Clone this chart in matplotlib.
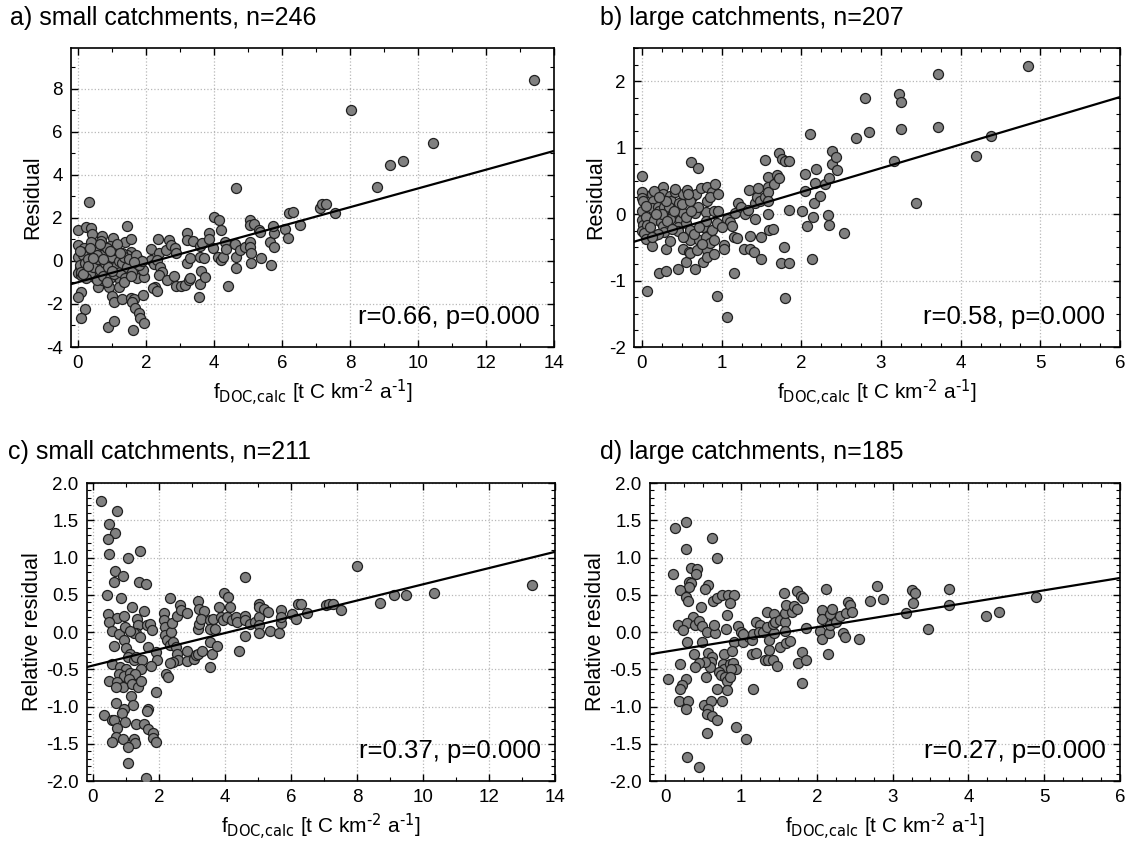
import matplotlib
matplotlib.use('Agg')
import matplotlib.pyplot as plt
from matplotlib.ticker import MultipleLocator, FormatStrFormatter

plt.rcParams['font.family'] = ['Liberation Sans', 'DejaVu Sans']
plt.rcParams['mathtext.default'] = 'regular'
plt.rcParams['axes.unicode_minus'] = False

# a) small catchments, residual
a_x = [0.34, 0, 0.25, 0.40, 0.42, 0, 0.18, 0, 0.23, 0.47, 0.70, 0.69, 0.67, 0.57, 0.42, 0.05, 0, 0.10, 0.32, 0.47,
       0.59, 0.72, 0.86, 0.91, 1.04, 0.96, 0.81, 0.76, 0.96, 1.11, 1.06, 1.16, 1.25, 1.20, 1.01, 1.06, 1.30, 0.89, 1.06, 0.10,
       0, 0.20, 0.10, 1.44, 1.40, 1.57, 1.55, 1.45, 1.30, 1.25, 1.40, 1.55, 1.65, 1.77, 1.69, 1.50, 1.37, 1.75, 1.94, 1.92,
       1.55, 1.65, 1.58, 1.69, 1.81, 1.84, 1.94, 1.63, 1.92, 2.16, 2.14, 2.24, 2.36, 2.40, 2.33, 2.43, 2.48, 2.39, 2.28, 2.22,
       2.33, 2.58, 2.61, 2.68, 2.73, 2.87, 2.90, 2.84, 2.90, 3.02, 3.14, 3.22, 3.22, 3.39, 3.22, 3.29, 3.26, 3.31, 3.56, 3.59,
       3.71, 3.59, 3.66, 3.61, 3.59, 3.75, 3.85, 3.85, 3.98, 4.00, 4.15, 4.20, 4.12, 4.21, 4.26, 4.34, 4.37, 4.41, 4.64, 4.61,
       4.64, 4.64, 4.78, 4.93, 5.06, 5.05, 5.06, 5.06, 5.08, 5.08, 5.18, 5.34, 5.35, 5.39, 5.67, 5.65, 5.76, 5.75, 5.78, 6.09,
       6.19, 6.22, 6.33, 6.53, 7.11, 7.19, 7.31, 7.56, 8.02, 8.79, 9.18, 9.56, 10.44, 13.40,
       0.05, 0.10, 0.15, 0.20, 0.30, 0.35, 0.40, 0.45, 0.50, 0.55, 0.60, 0.65, 0.70, 0.75, 0.80, 0.85, 0.90, 0.95, 1.00, 1.05,
       1.10, 1.15, 1.20, 1.25, 1.30, 1.35, 1.40, 1.45, 1.50, 1.60, 1.70, 1.80, 1.90, 0.25, 0.55, 0.85, 1.15, 1.35, 0.15, 0.65,
       0.30, 0.75, 1.00, 1.25, 1.55, 0.45, 0.95, 1.65, 0.35, 0.05]
a_y = [2.76, 1.44, 1.57, 1.55, 1.26, 0.74, 0.59, 0.17, 0.43, 0.59, 1.16, 0.91, 0.51, 0.20, 0.12, -0.34, -0.57, -0.65, -0.42, -0.73,
       -1.19, -0.88, -0.57, -1.19, 1.05, 0.70, 0.36, 0.05, -0.03, -0.11, -0.42, -0.65, -0.88, -1.19, -1.63, -1.89, -1.77, -3.05, -2.79, -1.43,
       -1.66, -2.25, -2.67, 1.64, 0.90, 1.01, 0.43, 0.28, 0.36, 0.12, -0.03, -0.14, 0.05, 0.08, -0.26, -0.42, -0.57, -0.81, -0.76, -0.42,
       -1.74, -1.78, -1.89, -2.20, -2.43, -2.67, -2.90, -3.21, -1.58, 0.54, 0.05, -0.14, 1.01, 0.36, 0.05, -0.26, -0.50, -0.65, -1.19, -1.27,
       -1.38, 0.51, -0.88, 0.98, 0.74, 0.59, 0.36, -0.70, -1.16, -1.16, -1.12, 1.32, 0.98, 0.95, -0.08, 0.12, -0.88, -0.78, -1.66, 0.17,
       0.12, 0.70, 0.82, -0.47, -1.07, -0.76, 1.29, 1.02, 0.59, 2.06, 1.91, 1.44, 0.20, 0.05, 0.20, 0.87, 0.56, -1.15, 3.41, 0.78,
       0.20, -0.34, 0.51, 0.64, 1.91, 1.67, 0.87, 0.67, 0.36, -0.11, 1.72, 1.44, 1.33, 0.12, -0.19, 0.90, 1.32, 1.63, 0.64, 1.47,
       1.09, 2.25, 2.29, 1.66, 2.48, 2.64, 2.64, 2.25, 7.02, 3.46, 4.47, 4.67, 5.47, 8.40,
       -0.20, -0.50, 0.30, -0.10, 0.10, -0.60, 0.90, -0.30, 0.50, -0.90, 0.10, -0.40, 0.30, -0.70, -0.10, 0.60, -0.30, -0.80, 0.20, -0.60,
       0.50, -0.20, 0.00, -0.50, -0.10, 0.20, -0.80, -0.30, 0.10, -0.50, 0.30, -0.20, 0.00, -0.80, 0.30, -1.00, 0.80, -1.00, -0.60, 0.80,
       -0.25, 0.10, -0.45, 0.35, -0.70, 0.15, 0.45, -0.05, 0.60, 0.45]

# b) large catchments, residual
b_x = [0, 0, 0, 0.01, 0, 0, 0.01, 0, 0.05, 0.06, 0.03, 0.05, 0.06, 0.13, 0.14, 0.12, 0.15, 0.16, 0.13, 0.21,
       0.26, 0.27, 0.20, 0.22, 0.28, 0.24, 0.26, 0.28, 0.30, 0.30, 0.35, 0.37, 0.34, 0.39, 0.35, 0.41, 0.43, 0.46, 0.48, 0.45,
       0.45, 0.51, 0.52, 0.55, 0.53, 0.51, 0.57, 0.60, 0.62, 0.63, 0.64, 0.60, 0.59, 0.55, 0.60, 0.66, 0.67, 0.70, 0.68, 0.72,
       0.69, 0.74, 0.76, 0.76, 0.80, 0.80, 0.81, 0.82, 0.82, 0.82, 0.85, 0.88, 0.88, 0.90, 0.91, 0.92, 0.94, 0.94, 0.96, 1.03,
       1.03, 1.07, 1.10, 1.13, 1.15, 1.07, 1.17, 1.16, 1.19, 1.21, 1.24, 1.29, 1.28, 1.34, 1.33, 1.36, 1.36, 1.41, 1.42, 1.42,
       1.44, 1.46, 1.48, 1.49, 1.50, 1.55, 1.54, 1.58, 1.58, 1.58, 1.58, 1.58, 1.60, 1.64, 1.66, 1.69, 1.72, 1.72, 1.74, 1.76,
       1.80, 1.78, 1.80, 1.84, 1.85, 1.85, 2.01, 2.05, 2.05, 2.07, 2.11, 2.13, 2.15, 2.16, 2.17, 2.19, 2.24, 2.30, 2.34, 2.35,
       2.35, 2.39, 2.38, 2.43, 2.45, 2.54, 2.69, 2.80, 2.85, 3.16, 3.22, 3.25, 3.25, 3.44, 3.71, 3.72, 4.19, 4.38, 4.85,
       0.05, 0.10, 0.15, 0.20, 0.25, 0.30, 0.35, 0.40, 0.45, 0.50, 0.55, 0.60, 0.65, 0.70, 0.75, 0.80, 0.85, 0.90, 0.95, 1.00,
       0.12, 0.22, 0.32, 0.42, 0.52, 0.62, 0.72, 0.18, 0.38, 0.58]
b_y = [0.58, 0.33, 0.24, 0.19, 0.05, -0.09, -0.17, -0.25, -0.04, -0.17, -0.29, -0.37, -1.15, 0.30, 0.19, 0.09, -0.09, -0.32, -0.48, -0.88,
       0.41, 0.31, 0.11, 0.04, 0.11, -0.12, -0.18, -0.27, -0.52, -0.85, 0.27, 0.20, 0.11, 0.02, -0.07, 0.33, 0.06, 0.16, -0.09, -0.19,
       -0.82, 0.31, 0.01, -0.14, -0.34, -0.52, 0.36, -0.24, 0.79, 0.26, 0.04, -0.39, -0.57, -0.72, -0.59, 0.01, -0.82, 0.69, 0.31, -0.39,
       -0.54, 0.39, -0.19, -0.72, 0.03, -0.34, -0.54, 0.19, 0.41, -0.64, -0.44, 0.34, -0.24, 0.04, -0.39, 0.46, -0.14, -1.23, 0.04, -0.47,
       -0.52, -0.07, -0.12, -0.18, -0.88, -1.55, 0.01, -0.35, -0.36, 0.16, 0.11, 0.00, -0.52, 0.36, 0.06, -0.33, -0.52, -0.57, -0.07, 0.16,
       0.26, 0.39, 0.19, -0.67, -0.34, 0.82, 0.26, 0.56, 0.41, 0.34, 0.19, 0.00, -0.24, -0.22, 0.45, 0.59, 0.92, 0.54, -0.74, 0.83,
       0.80, -0.49, -1.26, 0.80, 0.06, -0.74, 0.04, 0.61, 0.35, -0.18, 1.20, -0.67, -0.04, 0.17, 0.47, 0.68, 0.27, 0.45, -0.02, -0.17,
       0.55, 0.95, 0.75, 0.86, 0.66, -0.28, 1.14, 1.74, 1.24, 0.80, 1.81, 1.68, 1.28, 0.16, 2.11, 1.31, 0.88, 1.17, 2.23,
       0.12, -0.20, 0.35, -0.30, 0.00, 0.20, -0.40, 0.05, -0.25, 0.15, -0.05, 0.20, -0.30, 0.10, -0.45, -0.10, 0.25, -0.60, 0.30, -0.20,
       -0.35, 0.25, -0.10, 0.38, -0.35, 0.05, -0.20, 0.00, -0.22, 0.30]

# c) small catchments, relative residual
c_x = [0.24, 0.73, 0.49, 0.67, 0.45, 0.49, 1.43, 1.06, 0.67, 0.90, 0.65, 1.40, 1.60, 0.42, 0.85, 1.18, 1.55, 0.45, 0.73, 0.93,
       0.49, 0.57, 0.78, 0.98, 1.33, 1.38, 1.31, 1.23, 1.13, 1.43, 1.63, 1.73, 1.78, 0.93, 0.65, 1.01, 1.13, 1.05, 1.23, 1.30,
       1.68, 1.90, 1.95, 1.75, 1.48, 1.46, 0.59, 0.83, 1.01, 0.78, 0.95, 1.13, 1.28, 1.10, 0.50, 0.73, 0.91, 0.71, 1.18, 1.38,
       1.46, 1.91, 1.15, 1.21, 0.71, 0.93, 1.68, 1.63, 0.88, 0.98, 0.32, 0.59, 0.65, 0.73, 1.31, 1.55, 1.68, 1.81, 1.83, 1.91,
       0.71, 0.57, 0.91, 1.23, 1.26, 1.05, 1.05, 1.61, 2.16, 2.14, 2.17, 2.17, 2.24, 2.34, 2.36, 2.32, 2.41, 2.44, 2.52, 2.56,
       2.59, 2.42, 2.34, 2.21, 2.28, 2.56, 2.64, 2.67, 2.86, 2.86, 2.84, 3.07, 3.12, 3.19, 3.29, 3.19, 3.22, 3.19, 3.22, 3.37,
       3.27, 3.55, 3.55, 3.56, 3.60, 3.55, 3.63, 3.70, 3.75, 3.83, 3.87, 3.93, 3.98, 4.08, 4.05, 4.15, 4.20, 4.32, 4.35, 4.60,
       4.60, 4.62, 4.60, 4.42, 4.75, 4.90, 5.04, 5.04, 5.04, 5.04, 5.04, 5.18, 5.31, 5.36, 5.64, 5.69, 5.69, 5.71, 6.04, 6.16,
       6.21, 6.31, 6.49, 7.07, 7.15, 7.27, 7.52, 7.99, 8.71, 9.13, 9.50, 10.34, 13.31]
c_y = [1.76, 1.62, 1.45, 1.33, 1.25, 1.05, 1.09, 1.00, 0.82, 0.75, 0.67, 0.67, 0.65, 0.50, 0.45, 0.34, 0.28, 0.24, 0.19, 0.21,
       0.13, 0.02, -0.03, 0.07, 0.18, 0.10, -0.02, -0.01, 0.01, -0.07, 0.10, 0.11, 0.03, -0.11, -0.19, -0.22, -0.29, -0.34, -0.38, -0.34,
       -0.20, -0.27, -0.38, -0.45, -0.38, -0.49, -0.43, -0.47, -0.49, -0.56, -0.59, -0.55, -0.56, -0.63, -0.66, -0.67, -0.74, -0.74, -0.70, -0.74,
       -0.66, -0.81, -0.86, -0.98, -0.95, -1.03, -1.04, -1.06, -1.09, -1.21, -1.12, -1.18, -1.18, -1.29, -1.23, -1.23, -1.30, -1.36, -1.42, -1.47,
       -1.41, -1.48, -1.43, -1.44, -1.49, -1.55, -1.76, -1.96, 0.26, 0.16, 0.07, -0.04, -0.11, -0.18, 0.00, 0.45, 0.12, -0.13, -0.20, -0.29,
       -0.38, -0.40, -0.42, -0.56, -0.60, 0.21, 0.36, 0.30, 0.25, -0.39, -0.25, -0.36, -0.31, -0.29, -0.25, 0.04, 0.11, 0.42, 0.31, 0.28,
       0.18, 0.16, 0.04, -0.13, -0.29, -0.47, 0.18, 0.04, -0.19, 0.34, 0.20, 0.16, 0.52, 0.47, 0.20, 0.34, 0.16, 0.20, 0.13, 0.22,
       0.16, 0.74, -0.06, -0.25, 0.11, 0.13, 0.38, 0.34, 0.20, 0.10, -0.02, 0.31, 0.27, 0.02, -0.02, 0.29, 0.12, 0.20, 0.24, 0.18,
       0.37, 0.37, 0.26, 0.36, 0.37, 0.37, 0.30, 0.88, 0.39, 0.50, 0.50, 0.53, 0.63]

# d) large catchments, relative residual
d_x = [0.13, 0.27, 0.27, 0.62, 0.69, 0.10, 0.34, 0.42, 0.41, 0.32, 0.34, 0.31, 0.57, 0.52, 0.20, 0.28, 0.30, 0.63, 0.68, 0.75,
       0.83, 0.91, 0.86, 0.47, 0.81, 0.37, 0.17, 0.29, 0.24, 0.40, 0.44, 0.49, 0.55, 0.66, 0.65, 0.80, 0.96, 1.00, 0.91, 1.05,
       0.29, 0.48, 0.38, 0.57, 0.62, 0.60, 0.59, 0.53, 0.45, 0.39, 0.19, 0.77, 0.88, 0.76, 0.78, 0.85, 0.90, 0.93, 0.87, 0.71,
       0.74, 0.79, 0.82, 0.86, 0.81, 0.69, 0.54, 0.04, 0.27, 0.22, 0.20, 0.18, 0.30, 0.27, 0.51, 0.61, 0.56, 0.75, 0.55, 0.62,
       0.68, 0.55, 0.94, 1.07, 0.29, 0.45, 1.03, 1.10, 1.14, 1.16, 1.03, 1.15, 1.20, 1.16, 1.20, 1.25, 1.24, 1.29, 1.34, 1.32,
       1.34, 1.36, 1.37, 1.37, 1.42, 1.43, 1.47, 1.48, 1.51, 1.42, 1.43, 1.45, 1.51, 1.57, 1.58, 1.58, 1.59, 1.58, 1.60, 1.65,
       1.67, 1.70, 1.74, 1.74, 1.79, 1.82, 1.75, 1.80, 1.81, 1.86, 1.86, 2.04, 2.07, 2.07, 2.07, 2.12, 2.15, 2.16, 2.17, 2.18,
       2.20, 2.26, 2.31, 2.35, 2.37, 2.38, 2.41, 2.44, 2.46, 2.56, 2.70, 2.80, 2.87, 3.18, 3.25, 3.29, 3.27, 3.47, 3.74, 3.75,
       4.23, 4.41, 4.89]
d_y = [1.40, 1.47, 1.11, 1.26, 0.99, 0.78, 0.86, 0.84, 0.78, 0.67, 0.66, 0.61, 0.63, 0.58, 0.56, 0.47, 0.42, 0.42, 0.46, 0.49,
       0.49, 0.50, 0.39, 0.33, 0.23, 0.20, 0.09, 0.12, 0.03, 0.10, 0.15, 0.08, 0.00, -0.02, 0.09, 0.04, 0.08, 0.00, -0.13, -0.07,
       -0.13, -0.13, -0.30, -0.28, -0.34, -0.40, -0.47, -0.40, -0.42, -0.47, -0.43, -0.30, -0.25, -0.43, -0.49, -0.43, -0.42, -0.49, -0.50, -0.54,
       -0.58, -0.60, -0.66, -0.60, -0.78, -0.76, -0.60, -0.63, -0.63, -0.71, -0.76, -0.92, -0.92, -1.04, -0.98, -0.92, -1.04, -0.92, -1.10, -1.13,
       -1.18, -1.36, -1.28, -1.44, -1.68, -1.81, -0.13, -0.07, -0.11, -0.03, -0.03, -0.29, -0.28, -0.76, 0.13, 0.10, 0.00, 0.00, 0.27, -0.38,
       0.07, -0.37, -0.24, -0.11, -0.38, -0.02, 0.19, -0.45, -0.20, 0.11, 0.24, 0.13, 0.16, 0.53, 0.14, 0.25, 0.36, 0.01, -0.15, -0.12,
       0.27, 0.35, 0.31, 0.55, 0.48, 0.45, -0.42, -0.27, -0.68, -0.38, 0.05, 0.02, -0.09, 0.30, 0.18, 0.58, -0.30, -0.01, 0.10, 0.24,
       0.31, 0.13, 0.21, -0.01, -0.07, 0.25, 0.40, 0.36, 0.27, -0.10, 0.42, 0.62, 0.44, 0.26, 0.57, 0.52, 0.39, 0.04, 0.58, 0.36,
       0.21, 0.27, 0.47]

titles = ['a) small catchments, n=246', 'b) large catchments, n=207',
          'c) small catchments, n=211', 'd) large catchments, n=185']
stats = ['r=0.66, p=0.000', 'r=0.58, p=0.000', 'r=0.37, p=0.000', 'r=0.27, p=0.000']
ylabels = ['Residual', 'Residual', 'Relative residual', 'Relative residual']
# regression lines: intercept, slope
fits = [(-0.99, 0.436), (-0.38, 0.357), (-0.45, 0.109), (-0.265, 0.165)]

xlab = r'f$_{\text{DOC,calc}}$ [t C km$^{\text{-2}}$ a$^{\text{-1}}$]'

W, H = 1130, 847
fig = plt.figure(figsize=(W / 100, H / 100), dpi=100)

# axes boxes in pixels: left, top, right, bottom
boxes = [(71, 48, 554, 347), (634, 48, 1120, 347), (87, 483, 555, 781), (650, 483, 1120, 781)]
xlims = [(-0.2, 14), (-0.1, 6), (-0.18, 14), (-0.2, 6)]
ylims = [(-4, 9.9), (-2, 2.5), (-2, 2), (-2, 2)]
xmaj = [2, 1, 2, 1]
xmin_ = [1, 0.25, 1, 0.25]
ymaj = [2, 1, 0.5, 0.5]
ymin_ = [1, 0.25, 0.1, 0.1]
title_pos = [(10, 18), (600, 18), (8, 452), (600, 452)]

data = [(a_x, a_y), (b_x, b_y), (c_x, c_y), (d_x, d_y)]

for i in range(4):
    l, t, r, b = boxes[i]
    ax = fig.add_axes([l / W, 1 - b / H, (r - l) / W, (b - t) / H])
    xs, ys = data[i]
    ax.scatter(xs, ys, s=52, c='#808080', edgecolors='#202020', linewidths=0.9, zorder=3)
    x0, x1 = xlims[i]
    k0, k1 = fits[i]
    ax.plot([x0, x1], [k0 + k1 * x0, k0 + k1 * x1], color='black', lw=1.6, zorder=4)
    ax.set_xlim(x0, x1)
    ax.set_ylim(*ylims[i])
    ax.xaxis.set_major_locator(MultipleLocator(xmaj[i]))
    ax.xaxis.set_minor_locator(MultipleLocator(xmin_[i]))
    ax.yaxis.set_major_locator(MultipleLocator(ymaj[i]))
    ax.yaxis.set_minor_locator(MultipleLocator(ymin_[i]))
    if i >= 2:
        ax.yaxis.set_major_formatter(FormatStrFormatter('%.1f'))
    ax.grid(True, which='major', color='#b8b8b8', linestyle=':', linewidth=0.9)
    ax.tick_params(which='both', direction='in', top=True, right=True, labelsize=13.5, pad=6)
    ax.tick_params(which='major', length=5, width=1)
    ax.tick_params(which='minor', length=3, width=0.8)
    for sp in ax.spines.values():
        sp.set_linewidth(1.2)
    ax.set_xlabel(xlab, fontsize=15, labelpad=4)
    ax.set_ylabel(ylabels[i], fontsize=15.5, labelpad=2)
    ax.text(0.97, 0.10, stats[i], transform=ax.transAxes, ha='right', va='center', fontsize=18.5, zorder=5)
    fig.text(title_pos[i][0] / W, 1 - title_pos[i][1] / H, titles[i], fontsize=18, ha='left', va='center')

fig.savefig('out.png', dpi=100)
